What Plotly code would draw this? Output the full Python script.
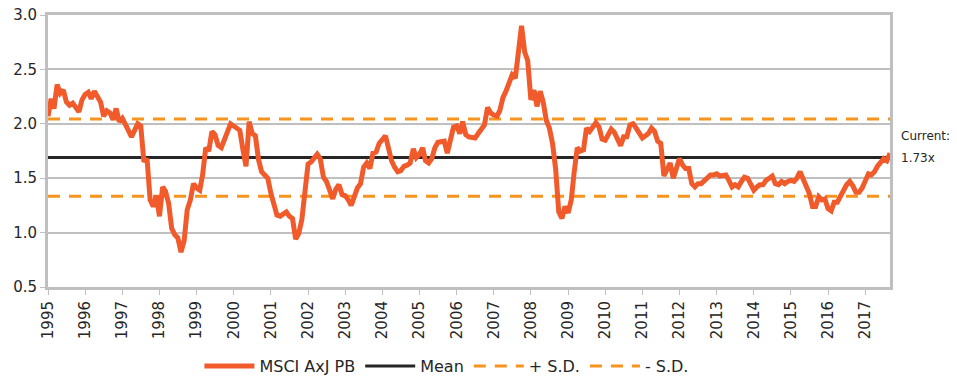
import pandas as pd
import plotly.graph_objects as go

# Monthly MSCI AxJ price-to-book, Jan 1995 .. Sep 2017
pb_1995 = [2.07, 2.23, 2.14, 2.36, 2.28, 2.31, 2.20, 2.17, 2.19, 2.14, 2.11, 2.22]
pb_1996 = [2.27, 2.29, 2.23, 2.30, 2.26, 2.20, 2.07, 2.12, 2.10, 2.04, 2.14, 2.02]
pb_1997 = [2.05, 2.00, 1.94, 1.88, 1.94, 2.00, 1.98, 1.65, 1.68, 1.30, 1.24, 1.34]
pb_1998 = [1.15, 1.42, 1.38, 1.27, 1.04, 0.98, 0.95, 0.82, 0.93, 1.21, 1.30, 1.45]
pb_1999 = [1.41, 1.39, 1.53, 1.78, 1.75, 1.93, 1.90, 1.80, 1.78, 1.86, 1.95, 2.00]
pb_2000 = [1.98, 1.96, 1.94, 1.76, 1.61, 2.02, 1.91, 1.89, 1.67, 1.56, 1.52, 1.50]
pb_2001 = [1.36, 1.27, 1.16, 1.15, 1.17, 1.19, 1.15, 1.13, 0.94, 0.99, 1.12, 1.42]
pb_2002 = [1.63, 1.65, 1.68, 1.72, 1.68, 1.51, 1.47, 1.40, 1.31, 1.40, 1.44, 1.35]
pb_2003 = [1.34, 1.30, 1.25, 1.33, 1.41, 1.45, 1.60, 1.64, 1.59, 1.73, 1.74, 1.82]
pb_2004 = [1.86, 1.89, 1.78, 1.66, 1.60, 1.56, 1.57, 1.61, 1.62, 1.64, 1.77, 1.69]
pb_2005 = [1.72, 1.78, 1.66, 1.64, 1.68, 1.78, 1.83, 1.83, 1.84, 1.73, 1.88, 1.97]
pb_2006 = [1.98, 1.91, 2.02, 1.90, 1.88, 1.87, 1.87, 1.91, 1.95, 1.99, 2.15, 2.10]
pb_2007 = [2.08, 2.07, 2.12, 2.24, 2.30, 2.38, 2.45, 2.42, 2.70, 2.90, 2.66, 2.58]
pb_2008 = [2.22, 2.31, 2.16, 2.30, 2.20, 2.03, 1.96, 1.82, 1.58, 1.19, 1.13, 1.24]
pb_2009 = [1.18, 1.30, 1.55, 1.78, 1.75, 1.76, 1.96, 1.93, 1.97, 2.01, 1.97, 1.86]
pb_2010 = [1.85, 1.90, 1.95, 1.92, 1.87, 1.80, 1.88, 1.88, 1.99, 2.00, 1.96, 1.92]
pb_2011 = [1.87, 1.89, 1.91, 1.96, 1.93, 1.84, 1.82, 1.52, 1.58, 1.64, 1.50, 1.61]
pb_2012 = [1.68, 1.62, 1.59, 1.59, 1.45, 1.42, 1.45, 1.45, 1.48, 1.51, 1.53, 1.53]
pb_2013 = [1.54, 1.52, 1.52, 1.53, 1.48, 1.42, 1.44, 1.42, 1.47, 1.51, 1.50, 1.44]
pb_2014 = [1.39, 1.42, 1.44, 1.44, 1.48, 1.50, 1.52, 1.45, 1.44, 1.47, 1.45, 1.47]
pb_2015 = [1.48, 1.47, 1.50, 1.56, 1.50, 1.43, 1.36, 1.24, 1.24, 1.33, 1.30, 1.31]
pb_2016 = [1.22, 1.20, 1.28, 1.28, 1.33, 1.40, 1.44, 1.47, 1.43, 1.37, 1.37, 1.41]
pb_2017 = [1.48, 1.54, 1.53, 1.56, 1.61, 1.65, 1.68, 1.66, 1.73]

pb_values = (pb_1995 + pb_1996 + pb_1997 + pb_1998 + pb_1999 + pb_2000 + pb_2001 +
             pb_2002 + pb_2003 + pb_2004 + pb_2005 + pb_2006 + pb_2007 + pb_2008 +
             pb_2009 + pb_2010 + pb_2011 + pb_2012 + pb_2013 + pb_2014 + pb_2015 +
             pb_2016 + pb_2017)
dates = pd.date_range("1995-01-01", periods=len(pb_values), freq="MS")

MEAN = 1.69
SD = 0.355
current_label = ["Current:", "1.73x"]
legend_names = ["MSCI AxJ PB", "Mean", "+ S.D.", "- S.D."]

FONT = "DejaVu Sans"
TXT = "#262626"
GRID = "#BFBFBF"

x_ends = [dates[0], dates[-1]]

fig = go.Figure()
fig.add_trace(go.Scatter(x=x_ends, y=[MEAN, MEAN], mode="lines", name=legend_names[1],
                         line=dict(color="#262626", width=3), legendrank=2))
fig.add_trace(go.Scatter(x=x_ends, y=[MEAN + SD] * 2, mode="lines", name=legend_names[2],
                         line=dict(color="#F7941D", width=3, dash="12px,9px"), legendrank=3))
fig.add_trace(go.Scatter(x=x_ends, y=[MEAN - SD] * 2, mode="lines", name=legend_names[3],
                         line=dict(color="#F7941D", width=3, dash="12px,9px"), legendrank=4))
fig.add_trace(go.Scatter(x=dates, y=pb_values, mode="lines", name=legend_names[0],
                         line=dict(color="#F15A2B", width=5), legendrank=1))

fig.update_layout(
    width=957, height=389,
    margin=dict(l=48, r=67, t=15, b=102, autoexpand=False),
    paper_bgcolor="white", plot_bgcolor="white",
    font=dict(family=FONT, size=15, color=TXT),
    showlegend=True,
    legend=dict(orientation="h", xref="container", x=0.467, xanchor="center",
                yref="container", y=0.059, yanchor="middle",
                font=dict(size=16, color=TXT), itemwidth=50, traceorder="normal"),
    xaxis=dict(
        type="date", range=[dates[0], dates[-1]], automargin=False,
        tick0="1995-01-01", dtick="M12", tickformat="%Y", tickangle=-90,
        showgrid=False, zeroline=False,
        showline=True, linecolor=GRID, linewidth=3, mirror=True,
        ticks="outside", ticklen=5, tickcolor=GRID, tickwidth=1,
        tickfont=dict(size=15, color=TXT),
    ),
    yaxis=dict(
        range=[0.5, 3.0], dtick=0.5, tickformat=".1f", automargin=False,
        showgrid=True, gridcolor=GRID, gridwidth=2, zeroline=False,
        showline=True, linecolor=GRID, linewidth=3, mirror=True,
        ticks="outside", ticklen=5, tickcolor=GRID,
        tickfont=dict(size=15, color=TXT),
    ),
)

fig.add_annotation(x=1.0, xref="paper", y=MEAN, yref="y", xshift=9, yshift=22,
                   text=current_label[0], showarrow=False, xanchor="left",
                   yanchor="middle", font=dict(size=12, color=TXT))
fig.add_annotation(x=1.0, xref="paper", y=MEAN, yref="y", xshift=9,
                   text=current_label[1], showarrow=False, xanchor="left",
                   yanchor="middle", font=dict(size=12, color=TXT))

fig.write_html("out.html", config={"displayModeBar": False},
               post_script="document.body.style.margin='0';document.body.style.overflow='hidden';")
